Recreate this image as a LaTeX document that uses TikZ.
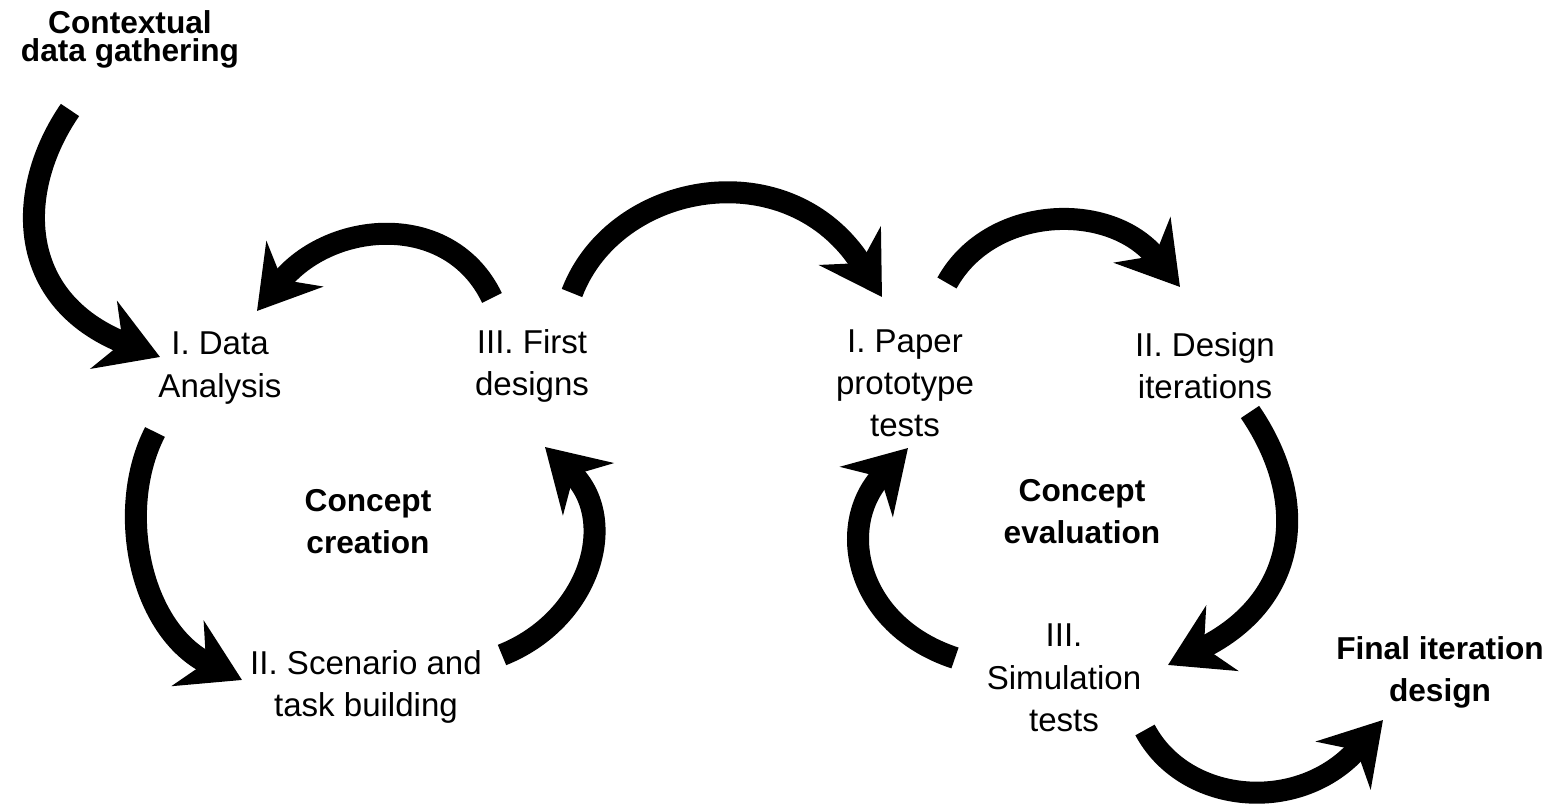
\documentclass[tikz,border=0pt]{standalone}
\usepackage{fontspec}
\setmainfont{Liberation Sans}
\usetikzlibrary{arrows.meta,calc}
\tikzset{
	stage/.style={align=center,inner sep=0pt,font=\fontsize{9.4}{12}\selectfont},
	phase/.style={stage,font=\fontsize{9}{12}\selectfont\bfseries},
	flow/.style={line width=2.2mm,-{Stealth[length=6mm,width=7.2mm,inset=2mm]}}
}
\begin{document}
\begin{tikzpicture}[x=0.01cm,y=-0.01cm]
\useasboundingbox (0,0) rectangle (1550,804);
\node[phase,font=\fontsize{9}{8}\selectfont\bfseries] (ctx) at (130,39) {Contextual\\data gathering};
\node[stage] (da) at (220,368) {I. Data\\Analysis};
\node[stage] (fd) at (532,366) {III. First\\designs};
\node[stage] (pp) at (905,383) {I. Paper\\prototype\\tests};
\node[stage] (di) at (1205,366) {II. Design\\iterations};
\node[phase] (cc) at (368,522) {Concept\\creation};
\node[phase] (ce) at (1082,512) {Concept\\evaluation};
\node[stage] (sb) at (366,687) {II. Scenario and\\task building};
\node[stage] (st) at (1064,678) {III.\\Simulation\\tests};
\node[phase] (fi) at (1440,672) {Final iteration\\design};
\draw[flow] ($(ctx)+(-60,71)$) .. controls +(-55,80) and +(-145,-57) .. ($(da)+(-60,-11)$);
\draw[flow] ($(fd)+(-40,-68)$) .. controls +(-42,-88) and +(73,-91) .. ($(da)+(37,-57)$);
\draw[flow] ($(fd)+(40,-73)$) .. controls +(43,-113) and +(-92,-147) .. ($(pp)+(-23,-86)$);
\draw[flow] ($(pp)+(42,-100)$) .. controls +(43,-78) and +(-70,-87) .. ($(di)+(-25,-79)$);
\draw[flow] ($(di)+(45,46)$) .. controls +(60,88) and +(132,-65) .. ($(st)+(104,-13)$);
\draw[flow] ($(st)+(-109,-20)$) .. controls +(-100,-33) and +(-73,77) .. ($(pp)+(3,65)$);
\draw[flow] ($(da)+(-65,64)$) .. controls +(-40,78) and +(-102,-50) .. ($(sb)+(-124,-7)$);
\draw[flow] ($(sb)+(136,-32)$) .. controls +(88,-35) and +(75,73) .. ($(fd)+(13,81)$);
\draw[flow] ($(st)+(81,52)$) .. controls +(40,75) and +(-83,95) .. ($(fi)+(-57,48)$);
\end{tikzpicture}
\end{document}
